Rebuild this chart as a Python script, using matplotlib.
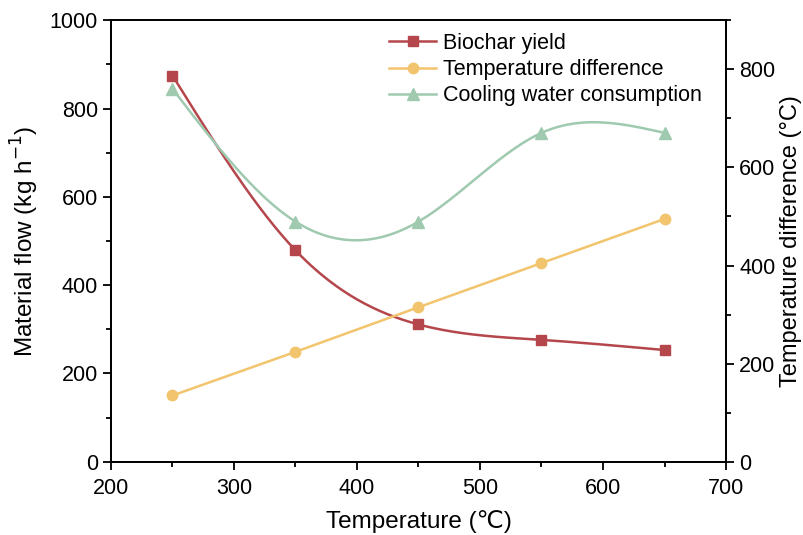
#Material flow vs temperature, two y axes
import numpy as np
import matplotlib
matplotlib.use('Agg')
import matplotlib.pyplot as plt
from matplotlib import ticker

plt.rcParams['font.family'] = ['Liberation Sans', 'DejaVu Sans']

# data
temp = [250, 350, 450, 550, 650]
biochar = [875, 479, 311, 276, 253]          # left axis, kg/h
cooling = [845, 544, 544, 745, 745]          # left axis, kg/h
temp_diff = [135, 224, 315, 405, 495]        # right axis, degC


def natural_spline(x, y, n=200):
    # natural cubic spline, like Origin's "spline" connection
    x = np.asarray(x, float)
    y = np.asarray(y, float)
    k = len(x)
    h = np.diff(x)
    A = np.zeros((k, k))
    b = np.zeros(k)
    A[0, 0] = A[-1, -1] = 1
    for i in range(1, k - 1):
        A[i, i - 1] = h[i - 1]
        A[i, i] = 2 * (h[i - 1] + h[i])
        A[i, i + 1] = h[i]
        b[i] = 6 * ((y[i + 1] - y[i]) / h[i] - (y[i] - y[i - 1]) / h[i - 1])
    M = np.linalg.solve(A, b)
    xs = np.linspace(x[0], x[-1], n)
    ys = np.empty_like(xs)
    for j, xv in enumerate(xs):
        i = min(np.searchsorted(x, xv, side='right') - 1, k - 2)
        t1 = x[i + 1] - xv
        t2 = xv - x[i]
        ys[j] = (M[i] * t1**3 + M[i + 1] * t2**3) / (6 * h[i]) \
            + (y[i] / h[i] - M[i] * h[i] / 6) * t1 \
            + (y[i + 1] / h[i] - M[i + 1] * h[i] / 6) * t2
    return xs, ys


c_red = '#b5474c'
c_yel = '#f2c46d'
c_grn = '#9fcab0'
lw = 1.8

fig = plt.figure(figsize=(8.04, 5.35), dpi=100)
ax = fig.add_axes([0.138, 0.137, 0.765, 0.825])
ax2 = ax.twinx()

xs, ys = natural_spline(temp, biochar)
ax.plot(xs, ys, color=c_red, lw=lw)
ax.plot(temp, biochar, 's', color=c_red, ms=7)

xs, ys = natural_spline(temp, cooling)
ax.plot(xs, ys, color=c_grn, lw=lw)
ax.plot(temp, cooling, '^', color=c_grn, ms=8)

ax2.plot(temp, temp_diff, '-o', color=c_yel, lw=lw, ms=7.5)

# legend handles
h1, = ax.plot([], [], '-s', color=c_red, lw=lw, ms=7)
h2, = ax.plot([], [], '-o', color=c_yel, lw=lw, ms=7.5)
h3, = ax.plot([], [], '-^', color=c_grn, lw=lw, ms=8)
ax.legend([h1, h2, h3], ['Biochar yield', 'Temperature difference', 'Cooling water consumption'],
          loc='upper left', bbox_to_anchor=(0.452, 0.972), frameon=False, fontsize=15.5,
          handlelength=2.2, handletextpad=0.3, labelspacing=0.25, borderaxespad=0, borderpad=0)

ax.set_xlim(200, 700)
ax.set_ylim(0, 1000)
ax2.set_ylim(0, 900)
ax.xaxis.set_major_locator(ticker.MultipleLocator(100))
ax.xaxis.set_minor_locator(ticker.MultipleLocator(50))
ax.yaxis.set_major_locator(ticker.MultipleLocator(200))
ax.yaxis.set_minor_locator(ticker.MultipleLocator(100))
ax2.yaxis.set_major_locator(ticker.MultipleLocator(200))
ax2.yaxis.set_minor_locator(ticker.MultipleLocator(100))

for a in (ax, ax2):
    for s in a.spines.values():
        s.set_linewidth(1.3)
    a.tick_params(which='major', direction='out', length=6, width=1.3, labelsize=15.5)
    a.tick_params(which='minor', direction='out', length=3.5, width=1.3)
ax.tick_params(axis='x', pad=6)

ax.set_xlabel('Temperature (℃)', fontsize=17.5, labelpad=8)
ax.set_ylabel('Material flow (kg h$^{-1}$)', fontsize=17.5, labelpad=6)
ax2.set_ylabel('Temperature difference (°C)', fontsize=17, labelpad=3)

plt.savefig('out.png', dpi=100)
